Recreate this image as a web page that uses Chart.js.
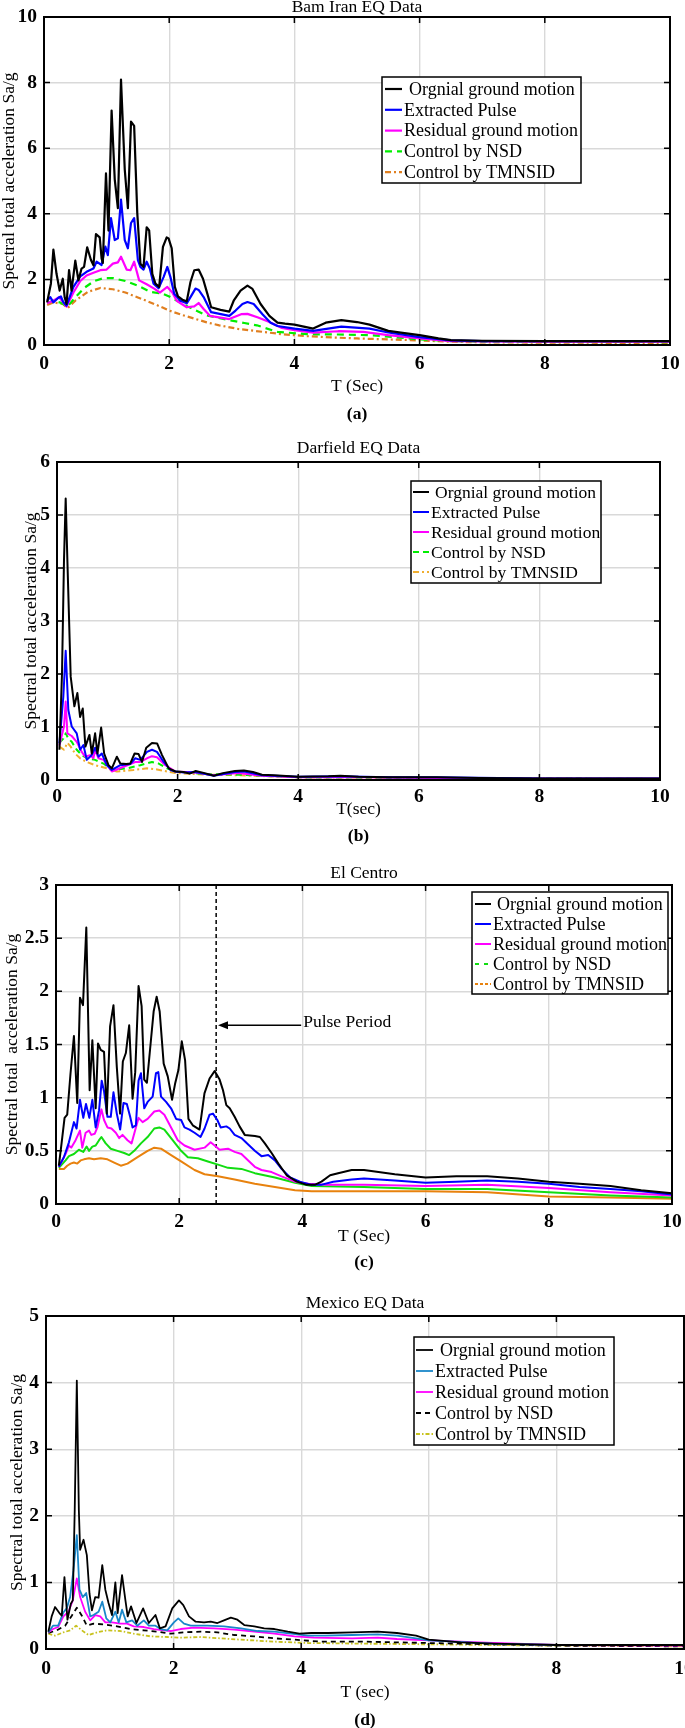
<!DOCTYPE html>
<html>
<head>
<meta charset="utf-8">
<script src="https://cdn.jsdelivr.net/npm/chart.js@4.4.1/dist/chart.umd.min.js"></script>
<style>
html,body{margin:0;padding:0;background:#fff;}
#wrap{position:relative;width:685px;height:1728px;overflow:hidden;background:#fff;}
canvas{position:absolute;left:0;}
</style>
</head>
<body>
<div id="wrap">
<canvas id="cA" width="685" height="430" style="top:0px;width:685px;height:430px"></canvas>
<canvas id="cB" width="685" height="430" style="top:430px;width:685px;height:430px"></canvas>
<canvas id="cC" width="685" height="430" style="top:860px;width:685px;height:430px"></canvas>
<canvas id="cD" width="685" height="438" style="top:1290px;width:685px;height:438px"></canvas>
</div>
<script>
// ---------------- text ----------------
const seriesNames = ['Orgnial ground motion','Extracted Pulse','Residual ground motion','Control by NSD','Control by TMNSID'];
const panelTitles = ['Bam Iran EQ Data','Darfield EQ Data','El Centro','Mexico EQ Data'];
const panelLetters = ['(a)','(b)','(c)','(d)'];
const xTitles = ['T (Sec)','T(sec)','T (Sec)','T (sec)'];
const yTitles = ['Spectral total acceleration Sa/g','Spectral total acceleration Sa/g','Spectral total  acceleration Sa/g','Spectral total acceleration Sa/g'];
const xMax = 10, xStep = 2;
const yMaxes = [10, 6, 3, 5];
const ySteps = [2, 1, 0.5, 1];
const pulseLabel = 'Pulse Period';
const pulsePeriodT = 2.6;
const pulseArrowTipT = 2.63;
const pulseArrowTailT = 3.98;
const pulseArrowSa = 1.68;

// ---------------- (a) Bam Iran ----------------
const aT_orig = [0.05,0.11,0.15,0.2,0.25,0.3,0.33,0.36,0.4,0.44,0.5,0.55,0.6,0.64,0.69,0.75,0.79,0.83,0.89,0.92,0.94,0.99,1.03,1.08,1.13,1.18,1.23,1.29,1.34,1.39,1.44,1.49,1.54,1.59,1.64,1.68,1.73,1.78,1.84,1.9,1.96,1.99,2.04,2.09,2.14,2.21,2.28,2.34,2.4,2.47,2.54,2.61,2.67,2.82,2.96,3.03,3.14,3.25,3.33,3.46,3.6,3.73,3.85,4.0,4.3,4.5,4.75,5.0,5.2,5.5,5.7,6.0,6.3,6.5,7.0,8.0,9.0,10.0];
const aSa_orig = [1.3,1.87,2.91,2.17,1.66,2.02,1.46,1.25,2.28,1.66,2.57,1.97,2.33,2.38,2.98,2.59,2.43,3.38,3.28,2.64,2.5,5.23,3.49,7.15,5.05,4.17,8.09,5.35,4.17,6.81,6.68,4.02,2.48,2.38,3.59,3.49,2.17,1.87,1.77,2.99,3.28,3.25,2.95,1.77,1.48,1.38,1.33,1.92,2.28,2.3,2.02,1.56,1.15,1.07,1.02,1.35,1.66,1.81,1.71,1.25,0.89,0.68,0.65,0.62,0.5,0.68,0.76,0.7,0.62,0.43,0.38,0.3,0.2,0.15,0.13,0.12,0.12,0.12];
const aT_pulse = [0.05,0.1,0.15,0.23,0.27,0.31,0.36,0.47,0.58,0.68,0.79,0.84,0.92,0.98,1.02,1.07,1.13,1.18,1.23,1.29,1.34,1.39,1.44,1.5,1.54,1.59,1.64,1.69,1.75,1.83,1.91,1.97,2.02,2.08,2.18,2.28,2.34,2.42,2.47,2.55,2.67,2.96,3.06,3.17,3.25,3.35,3.49,3.62,3.73,4.0,4.3,4.75,5.2,5.5,6.0,6.5,7.0,8.0,10.0];
const aSa_pulse = [1.35,1.46,1.3,1.44,1.48,1.3,1.2,1.77,2.09,2.23,2.33,2.54,2.44,3.0,2.74,3.87,3.2,3.25,4.43,3.2,2.95,3.72,3.87,2.59,2.38,2.3,2.54,2.33,1.87,1.73,2.07,2.38,2.07,1.56,1.35,1.27,1.46,1.72,1.68,1.46,1.0,0.89,1.05,1.25,1.31,1.25,0.94,0.68,0.58,0.5,0.43,0.56,0.5,0.38,0.24,0.14,0.12,0.12,0.12];
const aT_resid = [0.05,0.15,0.24,0.36,0.47,0.58,0.68,0.79,0.9,1.0,1.1,1.18,1.23,1.32,1.38,1.44,1.52,1.64,1.76,1.85,1.97,2.05,2.12,2.28,2.4,2.47,2.55,2.65,2.96,3.15,3.25,3.42,3.6,3.8,4.0,4.3,4.7,5.1,5.5,6.0,6.5,8.0,10.0];
const aSa_resid = [1.27,1.35,1.46,1.17,1.6,1.95,2.12,2.2,2.28,2.3,2.48,2.52,2.69,2.3,2.28,2.54,1.97,1.85,1.72,1.6,1.77,1.6,1.35,1.15,1.18,1.28,1.1,0.89,0.79,0.94,0.95,0.84,0.7,0.52,0.45,0.38,0.42,0.4,0.3,0.2,0.12,0.1,0.1];
const aT_nsd = [0.05,0.15,0.25,0.38,0.5,0.65,0.8,0.95,1.1,1.3,1.5,1.7,1.9,2.0,2.3,2.6,2.9,3.2,3.4,3.73,4.2,4.7,5.2,5.6,6.0,6.5,7.0,10.0];
const aSa_nsd = [1.28,1.35,1.3,1.18,1.45,1.75,1.95,2.04,2.04,1.95,1.81,1.62,1.56,1.48,1.17,0.9,0.78,0.67,0.6,0.4,0.33,0.32,0.3,0.24,0.17,0.12,0.1,0.09];
const aT_tmn = [0.05,0.15,0.3,0.38,0.5,0.7,0.9,1.1,1.3,1.5,1.8,2.0,2.2,2.6,2.8,3.1,3.5,3.8,4.2,4.6,5.0,5.5,6.0,6.5,7.0,10.0];
const aSa_tmn = [1.22,1.3,1.25,1.13,1.35,1.62,1.74,1.7,1.6,1.45,1.22,1.05,0.92,0.69,0.6,0.49,0.4,0.33,0.27,0.23,0.2,0.17,0.14,0.1,0.08,0.06];

// ---------------- (b) Darfield ----------------
const bT_orig = [0.04,0.083,0.116,0.144,0.172,0.227,0.288,0.338,0.383,0.427,0.471,0.538,0.577,0.632,0.671,0.732,0.782,0.854,0.91,0.993,1.05,1.15,1.214,1.287,1.353,1.409,1.48,1.575,1.66,1.742,1.853,1.964,2.1,2.2,2.3,2.45,2.6,2.75,2.95,3.1,3.25,3.4,3.6,4.0,4.5,4.7,5.0,5.5,6.0,6.3,7.0,8.0,10.0];
const bSa_orig = [0.57,2.01,4.15,5.31,4.15,1.95,1.39,1.64,1.19,1.35,0.63,0.85,0.5,0.88,0.5,0.99,0.5,0.28,0.22,0.44,0.31,0.3,0.31,0.5,0.49,0.34,0.61,0.7,0.69,0.47,0.22,0.16,0.15,0.12,0.17,0.13,0.08,0.13,0.17,0.18,0.15,0.1,0.09,0.06,0.07,0.08,0.06,0.05,0.05,0.05,0.04,0.03,0.03];
const bT_pulse = [0.04,0.105,0.144,0.188,0.244,0.327,0.383,0.438,0.494,0.577,0.632,0.688,0.743,0.826,0.91,1.05,1.214,1.298,1.381,1.492,1.575,1.658,1.77,1.88,1.964,2.1,2.3,2.6,2.95,3.1,3.4,4.0,4.7,5.5,6.3,8.0,10.0];
const bSa_pulse = [0.69,1.57,2.44,1.32,1.01,0.88,0.57,0.66,0.38,0.47,0.61,0.44,0.5,0.28,0.19,0.28,0.3,0.41,0.38,0.53,0.57,0.53,0.34,0.19,0.16,0.14,0.15,0.08,0.15,0.16,0.09,0.06,0.07,0.05,0.05,0.03,0.03];
const bT_resid = [0.04,0.116,0.144,0.172,0.244,0.327,0.41,0.466,0.549,0.604,0.632,0.688,0.771,0.91,1.104,1.298,1.381,1.492,1.575,1.658,1.797,1.964,2.3,2.6,3.0,3.4,4.0,5.0,6.3,8.0,10.0];
const bSa_resid = [0.65,1.01,1.48,0.88,0.83,0.72,0.53,0.44,0.47,0.41,0.57,0.41,0.38,0.16,0.25,0.34,0.34,0.41,0.45,0.43,0.28,0.16,0.14,0.09,0.13,0.08,0.05,0.05,0.04,0.03,0.03];
const bT_nsd = [0.04,0.105,0.144,0.188,0.244,0.327,0.41,0.494,0.632,0.771,0.91,1.16,1.381,1.575,1.686,1.825,1.964,2.5,3.0,4.0,6.0,8.0,10.0];
const bSa_nsd = [0.7,0.78,0.88,0.78,0.72,0.57,0.47,0.41,0.38,0.31,0.19,0.22,0.28,0.34,0.31,0.22,0.16,0.11,0.1,0.05,0.04,0.03,0.02];
const bT_tmn = [0.04,0.116,0.172,0.227,0.299,0.383,0.494,0.632,0.826,0.993,1.27,1.492,1.658,1.825,1.964,2.5,3.0,4.0,6.0,8.0,10.0];
const bSa_tmn = [0.63,0.57,0.7,0.63,0.5,0.41,0.34,0.28,0.22,0.16,0.19,0.22,0.2,0.16,0.13,0.1,0.09,0.05,0.04,0.03,0.02];

// ---------------- (c) El Centro ----------------
const cT_orig = [0.046,0.084,0.139,0.182,0.236,0.291,0.345,0.389,0.438,0.492,0.546,0.59,0.644,0.682,0.726,0.78,0.824,0.878,0.933,0.987,1.04,1.085,1.134,1.188,1.243,1.286,1.34,1.39,1.432,1.476,1.541,1.585,1.634,1.683,1.748,1.814,1.884,1.933,1.987,2.042,2.096,2.15,2.22,2.33,2.41,2.493,2.575,2.656,2.711,2.765,2.82,2.9,2.98,3.064,3.23,3.31,3.39,3.5,3.61,3.744,3.91,4.07,4.2,4.31,4.45,4.58,4.8,5.0,5.5,6.0,6.5,7.0,7.5,8.0,8.5,9.0,9.5,10.0];
const cSa_orig = [0.36,0.54,0.81,0.84,1.23,1.58,0.95,1.94,1.87,2.6,1.07,1.54,0.9,1.51,1.45,1.43,0.85,1.67,1.87,1.29,0.85,1.34,1.42,1.68,0.99,1.24,2.05,1.86,1.17,1.14,1.54,1.81,1.95,1.81,1.32,1.2,0.98,1.13,1.26,1.53,1.35,0.8,0.74,0.7,1.04,1.18,1.25,1.17,1.07,0.93,0.9,0.82,0.73,0.65,0.64,0.63,0.57,0.48,0.38,0.27,0.21,0.18,0.18,0.21,0.27,0.29,0.32,0.32,0.28,0.25,0.26,0.26,0.24,0.21,0.19,0.17,0.13,0.1];
const cT_pulse = [0.046,0.128,0.21,0.291,0.334,0.389,0.443,0.487,0.541,0.59,0.644,0.699,0.742,0.78,0.835,0.889,0.933,0.987,1.041,1.096,1.15,1.204,1.243,1.297,1.34,1.379,1.433,1.487,1.569,1.623,1.661,1.705,1.787,1.868,1.95,2.031,2.086,2.167,2.249,2.346,2.412,2.493,2.548,2.619,2.673,2.765,2.82,2.9,3.01,3.12,3.227,3.336,3.445,3.554,3.662,3.8,3.96,4.15,4.3,4.5,4.8,5.0,5.5,6.0,6.5,7.0,7.5,8.0,8.5,9.0,9.5,10.0];
const cSa_pulse = [0.35,0.44,0.58,0.77,0.71,0.98,0.81,0.94,0.81,0.98,0.72,0.88,1.16,1.06,0.82,0.82,1.05,0.85,0.7,0.95,0.94,0.82,0.72,0.74,1.16,1.23,0.9,0.96,1.01,1.23,1.24,1.01,0.96,0.9,0.8,0.79,0.72,0.7,0.67,0.63,0.71,0.84,0.85,0.79,0.72,0.73,0.71,0.65,0.62,0.56,0.5,0.45,0.46,0.41,0.33,0.25,0.21,0.18,0.18,0.21,0.23,0.24,0.22,0.2,0.21,0.22,0.21,0.19,0.16,0.14,0.12,0.09];
const cT_resid = [0.046,0.155,0.21,0.247,0.318,0.389,0.427,0.481,0.536,0.573,0.628,0.672,0.737,0.78,0.835,0.9,0.971,1.025,1.08,1.161,1.226,1.297,1.34,1.406,1.487,1.596,1.678,1.759,1.868,1.977,2.086,2.249,2.412,2.51,2.575,2.656,2.792,2.9,3.01,3.12,3.227,3.336,3.5,3.662,3.88,4.1,4.37,5.0,6.0,7.0,8.0,9.0,10.0];
const cSa_resid = [0.35,0.47,0.55,0.53,0.6,0.69,0.53,0.67,0.69,0.65,0.66,0.72,0.89,0.79,0.72,0.71,0.67,0.62,0.65,0.6,0.57,0.72,0.81,0.77,0.8,0.87,0.88,0.84,0.72,0.6,0.55,0.51,0.53,0.58,0.55,0.51,0.52,0.49,0.47,0.41,0.35,0.32,0.3,0.26,0.21,0.19,0.18,0.18,0.17,0.18,0.15,0.11,0.08];
const cT_nsd = [0.046,0.155,0.21,0.291,0.372,0.443,0.497,0.536,0.59,0.644,0.699,0.737,0.807,0.889,0.998,1.107,1.188,1.27,1.379,1.487,1.596,1.678,1.759,1.868,2.031,2.14,2.303,2.466,2.63,2.792,3.01,3.227,3.554,3.88,4.15,5.0,6.0,7.0,8.0,9.0,10.0];
const cSa_nsd = [0.34,0.41,0.45,0.47,0.51,0.49,0.54,0.5,0.54,0.55,0.6,0.63,0.57,0.52,0.5,0.48,0.46,0.5,0.57,0.63,0.71,0.72,0.7,0.62,0.5,0.44,0.43,0.4,0.37,0.34,0.33,0.29,0.25,0.2,0.17,0.16,0.14,0.14,0.11,0.08,0.06];
const cT_tmn = [0.046,0.128,0.182,0.236,0.291,0.345,0.4,0.454,0.536,0.617,0.726,0.835,0.944,1.052,1.161,1.324,1.487,1.596,1.705,1.868,2.031,2.249,2.412,2.63,2.9,3.227,3.554,3.88,4.15,5.0,6.0,7.0,8.0,9.0,10.0];
const cSa_tmn = [0.33,0.33,0.36,0.38,0.39,0.38,0.41,0.42,0.43,0.42,0.43,0.42,0.39,0.36,0.38,0.44,0.5,0.53,0.52,0.46,0.4,0.32,0.28,0.26,0.23,0.19,0.16,0.13,0.12,0.12,0.12,0.11,0.07,0.06,0.05];

// ---------------- (d) Mexico ----------------
const dT_orig = [0.037,0.089,0.142,0.21,0.247,0.289,0.336,0.389,0.42,0.45,0.483,0.515,0.535,0.588,0.64,0.682,0.72,0.772,0.824,0.882,0.93,0.98,1.034,1.087,1.123,1.192,1.245,1.28,1.333,1.417,1.522,1.612,1.716,1.785,1.874,1.979,2.084,2.152,2.241,2.346,2.477,2.582,2.687,2.79,2.897,3.0,3.107,3.265,3.42,3.58,3.79,3.97,4.16,4.42,4.8,5.2,5.5,5.8,6.0,6.5,7.0,8.0,10.0];
const dSa_orig = [0.26,0.49,0.63,0.54,0.5,1.08,0.44,0.68,0.73,2.08,4.03,2.08,1.49,1.64,1.41,0.83,0.58,0.78,0.77,1.26,0.89,0.69,0.51,1.0,0.54,1.11,0.73,0.49,0.64,0.39,0.61,0.39,0.51,0.31,0.34,0.61,0.73,0.66,0.49,0.41,0.4,0.41,0.39,0.43,0.47,0.44,0.36,0.34,0.31,0.3,0.26,0.23,0.24,0.24,0.25,0.26,0.24,0.2,0.14,0.1,0.08,0.06,0.06];
const dT_pulse = [0.037,0.11,0.19,0.273,0.325,0.378,0.43,0.483,0.525,0.577,0.63,0.693,0.745,0.824,0.882,0.945,1.008,1.087,1.14,1.192,1.26,1.35,1.43,1.533,1.612,1.716,1.795,1.9,2.005,2.073,2.163,2.268,2.53,2.79,3.055,3.317,3.58,3.84,4.105,4.37,4.8,5.2,5.5,5.8,6.0,7.0,8.0,10.0];
const dSa_pulse = [0.25,0.35,0.35,0.55,0.61,0.78,1.18,1.71,0.89,0.78,0.84,0.49,0.51,0.56,0.71,0.46,0.4,0.56,0.4,0.59,0.4,0.43,0.35,0.43,0.35,0.35,0.3,0.28,0.4,0.46,0.38,0.35,0.35,0.34,0.31,0.27,0.26,0.23,0.2,0.2,0.21,0.22,0.2,0.16,0.13,0.08,0.06,0.06];
const dT_resid = [0.037,0.11,0.19,0.273,0.352,0.42,0.483,0.535,0.614,0.693,0.772,0.85,0.93,1.034,1.166,1.27,1.375,1.533,1.69,1.848,1.953,2.11,2.32,2.635,2.95,3.265,3.58,3.896,4.2,4.8,5.2,5.5,6.0,7.0,8.0,10.0];
const dSa_resid = [0.25,0.3,0.33,0.49,0.56,0.73,1.06,0.78,0.56,0.43,0.51,0.49,0.4,0.4,0.38,0.38,0.34,0.33,0.3,0.28,0.27,0.3,0.32,0.31,0.29,0.26,0.23,0.19,0.17,0.16,0.17,0.15,0.13,0.09,0.06,0.05];
const dT_nsd = [0.037,0.168,0.3,0.404,0.483,0.562,0.64,0.745,0.903,1.113,1.323,1.533,1.743,1.953,2.163,2.425,2.687,2.95,3.265,3.58,3.896,4.315,5.0,6.0,7.0,8.0,10.0];
const dSa_nsd = [0.24,0.28,0.35,0.5,0.62,0.5,0.35,0.38,0.37,0.34,0.3,0.28,0.26,0.23,0.25,0.26,0.25,0.21,0.19,0.16,0.14,0.11,0.11,0.09,0.07,0.05,0.04];
const dT_tmn = [0.037,0.142,0.273,0.378,0.472,0.562,0.667,0.8,0.955,1.166,1.375,1.638,1.9,2.11,2.425,2.74,3.055,3.58,4.105,5.0,6.0,7.0,8.0,10.0];
const dSa_tmn = [0.23,0.2,0.25,0.28,0.35,0.28,0.21,0.25,0.28,0.27,0.23,0.19,0.18,0.17,0.18,0.16,0.14,0.11,0.09,0.08,0.07,0.06,0.05,0.04];

// ---------------- rendering ----------------
const FONT = 'Liberation Serif';
Chart.defaults.font.family = FONT;
Chart.defaults.color = '#000';

function pts(T, S) {
  const n = Math.min(T.length, S.length), out = [];
  for (let i = 0; i < n; i++) out.push({x: T[i], y: S[i]});
  return out;
}

const decor = {
  id: 'decor',
  afterDatasetsDraw(chart, args, o) {
    const ctx = chart.ctx, a = chart.chartArea, xs = chart.scales.x, ys = chart.scales.y;
    ctx.save();
    ctx.setLineDash([]);
    ctx.strokeStyle = '#000';
    ctx.lineWidth = 1.5;
    ctx.beginPath();
    xs.ticks.forEach(t => {
      const p = xs.getPixelForValue(t.value);
      ctx.moveTo(p, a.bottom); ctx.lineTo(p, a.bottom - 6);
      ctx.moveTo(p, a.top); ctx.lineTo(p, a.top + 6);
    });
    ys.ticks.forEach(t => {
      const p = ys.getPixelForValue(t.value);
      ctx.moveTo(a.left, p); ctx.lineTo(a.left + 6, p);
      ctx.moveTo(a.right, p); ctx.lineTo(a.right - 6, p);
    });
    ctx.stroke();
    ctx.lineWidth = 2;
    ctx.strokeRect(a.left, a.top, a.right - a.left, a.bottom - a.top);

    if (o.arrow) {
      const x0 = xs.getPixelForValue(pulseArrowTipT);
      const x1 = xs.getPixelForValue(pulseArrowTailT);
      const y = ys.getPixelForValue(pulseArrowSa);
      ctx.lineWidth = 1.5;
      ctx.beginPath(); ctx.moveTo(x0 + 8, y); ctx.lineTo(x1, y); ctx.stroke();
      ctx.fillStyle = '#000';
      ctx.beginPath(); ctx.moveTo(x0, y); ctx.lineTo(x0 + 10, y - 4); ctx.lineTo(x0 + 10, y + 4); ctx.closePath(); ctx.fill();
      ctx.font = '17.5px "' + FONT + '"';
      ctx.textAlign = 'left'; ctx.textBaseline = 'middle';
      ctx.fillText(pulseLabel, x1 + 2, y - 3);
    }

    const L = o.legend;
    if (L) {
      ctx.fillStyle = '#fff';
      ctx.fillRect(L.x, L.y, L.w, L.h);
      ctx.strokeStyle = '#000'; ctx.lineWidth = 1.5;
      ctx.strokeRect(L.x, L.y, L.w, L.h);
      ctx.font = L.size + 'px "' + FONT + '"';
      ctx.textAlign = 'left'; ctx.textBaseline = 'middle';
      for (let i = 0; i < seriesNames.length; i++) {
        const ds = chart.data.datasets[i];
        const y = L.y + L.row0 + i * L.step;
        ctx.strokeStyle = ds.borderColor;
        ctx.lineWidth = ds.borderWidth;
        ctx.setLineDash(ds.legendDash || []);
        ctx.beginPath(); ctx.moveTo(L.sx0, y); ctx.lineTo(L.sx1, y); ctx.stroke();
        ctx.setLineDash([]);
        ctx.fillStyle = '#000';
        ctx.fillText(ds.label, i === 0 ? L.tx0 : L.tx, y + 1);
      }
    }
    ctx.restore();
  },
  afterDraw(chart, args, o) {
    const ctx = chart.ctx, a = chart.chartArea;
    const cx = (a.left + a.right) / 2;
    ctx.save();
    ctx.fillStyle = '#000'; ctx.textAlign = 'center'; ctx.textBaseline = 'middle';
    ctx.font = '17.5px "' + FONT + '"';
    ctx.fillText(o.title, cx, o.titleY);
    ctx.font = 'bold 17.5px "' + FONT + '"';
    ctx.fillText(o.letter, cx, o.letterY);
    ctx.restore();
  }
};

function buildPanel(canvasId, p, k) {
  const off = p.canvasTop;
  const xh = p.xTitleY - p.B + 8.75;
  const datasets = p.series.map((s, i) => ({
    label: seriesNames[i],
    data: pts(s.T, s.S),
    borderColor: s.color,
    backgroundColor: s.color,
    borderWidth: s.width,
    borderDash: s.dash || [],
    legendDash: s.legendDash || s.dash || [],
    borderJoinStyle: 'round',
    pointRadius: 0, pointHoverRadius: 0, tension: 0, fill: false
  }));
  (p.extra || []).forEach(d => datasets.push(d));
  const leg = p.legend;
  const legendLocal = {x: leg.x, y: leg.y - off, w: leg.w, h: leg.h, row0: leg.row0, step: leg.step,
                       sx0: leg.sx0, sx1: leg.sx1, tx: leg.tx, tx0: leg.tx0, size: leg.size};
  return new Chart(document.getElementById(canvasId), {
    type: 'line',
    data: {datasets},
    options: {
      responsive: false, animation: false, devicePixelRatio: 1, events: [],
      layout: {padding: {left: 0, right: 685 - p.R, top: p.T - off, bottom: p.canvasH - (p.B - off) - xh}},
      plugins: {
        legend: {display: false}, title: {display: false}, tooltip: {enabled: false},
        decor: {title: panelTitles[k], titleY: p.titleY - off, letter: panelLetters[k], letterY: p.letterY - off,
                legend: legendLocal, arrow: !!p.arrow}
      },
      scales: {
        x: {
          type: 'linear', min: 0, max: xMax,
          ticks: {stepSize: xStep, autoSkip: false, maxRotation: 0, padding: p.xTickPad,
                  font: {family: FONT, size: 19.5, weight: 'bold'}, color: '#000', callback: v => String(v)},
          grid: {color: '#d9d9d9', lineWidth: 1.4, drawTicks: false},
          border: {display: false},
          title: {display: true, text: xTitles[k], color: '#000', padding: {top: 0, bottom: 0},
                  font: {family: FONT, size: 17.5, lineHeight: 1}},
          afterFit: s => { s.height = xh; s.paddingLeft = 0; s.paddingRight = 0; }
        },
        y: {
          type: 'linear', min: 0, max: yMaxes[k],
          ticks: {stepSize: ySteps[k], autoSkip: false, padding: 7,
                  font: {family: FONT, size: 19.5, weight: 'bold'}, color: '#000', callback: v => String(v)},
          grid: {color: '#d9d9d9', lineWidth: 1.4, drawTicks: false},
          border: {display: false},
          title: {display: true, text: yTitles[k], color: '#000', padding: {top: p.yTitleX - 8.75, bottom: 0},
                  font: {family: FONT, size: 17.5, lineHeight: 1}},
          afterFit: s => { s.width = p.L; s.paddingTop = 0; s.paddingBottom = 0; }
        }
      }
    },
    plugins: [decor]
  });
}

// panel (a)
buildPanel('cA', {
  canvasTop: 0, canvasH: 430, L: 44, T: 17, R: 670, B: 345,
  xTitleY: 386, xTickPad: 7, yTitleX: 9, titleY: 7, letterY: 414,
  legend: {x: 382, y: 77, w: 199, h: 106, row0: 12, step: 20.8, sx0: 385, sx1: 402, tx: 404, tx0: 409, size: 18},
  series: [
    {T: aT_orig, S: aSa_orig, color: '#000000', width: 2.2},
    {T: aT_pulse, S: aSa_pulse, color: '#0000ff', width: 2.2},
    {T: aT_resid, S: aSa_resid, color: '#ff00ff', width: 2.2},
    {T: aT_nsd, S: aSa_nsd, color: '#00ee00', width: 2.2, dash: [7, 5]},
    {T: aT_tmn, S: aSa_tmn, color: '#e07f20', width: 2.2, dash: [6, 3, 2, 3]}
  ]
}, 0);

// panel (b)
buildPanel('cB', {
  canvasTop: 430, canvasH: 430, L: 57, T: 462, R: 660, B: 780,
  xTitleY: 809, xTickPad: 5, yTitleX: 31, titleY: 448, letterY: 836,
  legend: {x: 411, y: 481, w: 190, h: 102, row0: 11, step: 20, sx0: 413, sx1: 429, tx: 431, tx0: 435, size: 17.5},
  series: [
    {T: bT_orig, S: bSa_orig, color: '#000000', width: 2},
    {T: bT_pulse, S: bSa_pulse, color: '#0000ff', width: 2},
    {T: bT_resid, S: bSa_resid, color: '#ff00ff', width: 2},
    {T: bT_nsd, S: bSa_nsd, color: '#00ee00', width: 2, dash: [6, 4]},
    {T: bT_tmn, S: bSa_tmn, color: '#f0ae30', width: 2, dash: [6, 3, 2, 3]}
  ]
}, 1);

// panel (c)
buildPanel('cC', {
  canvasTop: 860, canvasH: 430, L: 56, T: 885, R: 672, B: 1204,
  xTitleY: 1236, xTickPad: 6, yTitleX: 12, titleY: 873, letterY: 1262,
  legend: {x: 472, y: 892, w: 196, h: 102, row0: 12, step: 20, sx0: 475, sx1: 491, tx: 493, tx0: 497, size: 18},
  arrow: true,
  series: [
    {T: cT_orig, S: cSa_orig, color: '#000000', width: 2},
    {T: cT_pulse, S: cSa_pulse, color: '#0000ff', width: 2},
    {T: cT_resid, S: cSa_resid, color: '#ff00ff', width: 2},
    {T: cT_nsd, S: cSa_nsd, color: '#11dd11', width: 2, legendDash: [4, 5]},
    {T: cT_tmn, S: cSa_tmn, color: '#e8820e', width: 2, legendDash: [3, 2]}
  ],
  extra: [{
    label: pulseLabel,
    data: [{x: pulsePeriodT, y: 0}, {x: pulsePeriodT, y: yMaxes[2]}],
    borderColor: '#000', borderWidth: 1.5, borderDash: [4, 3], pointRadius: 0, fill: false
  }]
}, 2);

// panel (d)
buildPanel('cD', {
  canvasTop: 1290, canvasH: 438, L: 46, T: 1316, R: 684, B: 1649,
  xTitleY: 1692, xTickPad: 8, yTitleX: 17.5, titleY: 1303, letterY: 1720,
  legend: {x: 414, y: 1337, w: 200, h: 108, row0: 13, step: 21, sx0: 416, sx1: 433, tx: 435, tx0: 440, size: 18},
  series: [
    {T: dT_orig, S: dSa_orig, color: '#000000', width: 1.8},
    {T: dT_pulse, S: dSa_pulse, color: '#1a87c9', width: 1.8},
    {T: dT_resid, S: dSa_resid, color: '#ff00ff', width: 1.8},
    {T: dT_nsd, S: dSa_nsd, color: '#000000', width: 1.8, dash: [5, 4]},
    {T: dT_tmn, S: dSa_tmn, color: '#c8c21e', width: 1.8, dash: [4, 2, 1.5, 2]}
  ]
}, 3);
</script>
</body>
</html>
